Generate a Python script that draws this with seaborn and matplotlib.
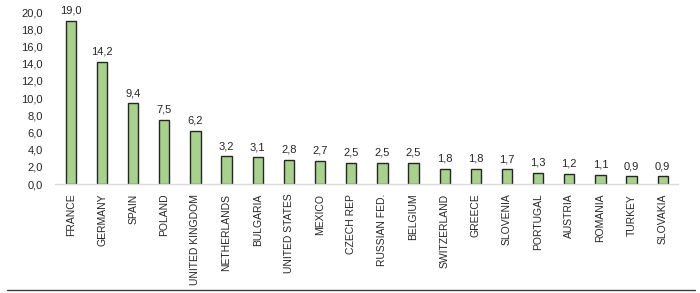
import matplotlib
matplotlib.use("Agg")
import matplotlib.pyplot as plt
import seaborn as sns
import pandas as pd
from matplotlib.lines import Line2D
from matplotlib.ticker import FuncFormatter

countries = ["FRANCE", "GERMANY", "SPAIN", "POLAND", "UNITED KINGDOM", "NETHERLANDS",
             "BULGARIA", "UNITED STATES", "MEXICO", "CZECH REP", "RUSSIAN FED.", "BELGIUM",
             "SWITZERLAND", "GREECE", "SLOVENIA", "PORTUGAL", "AUSTRIA", "ROMANIA",
             "TURKEY", "SLOVAKIA"]
values = [19.0, 14.2, 9.4, 7.5, 6.2, 3.2, 3.1, 2.8, 2.7, 2.5, 2.5, 2.5,
          1.8, 1.8, 1.7, 1.3, 1.2, 1.1, 0.9, 0.9]
yticks = [0, 2, 4, 6, 8, 10, 12, 14, 16, 18, 20]

sns.set_style("white")
plt.rcParams['font.family'] = ['Liberation Sans', 'DejaVu Sans']

df = pd.DataFrame({"country": countries, "value": values})

fig = plt.figure(figsize=(7, 2.93), dpi=100)
ax = fig.add_axes([0.079, 0.372, 0.89, 0.587])
sns.barplot(data=df, x="country", y="value", color="#a9d18e", width=0.33,
            edgecolor="#262626", linewidth=1.0, ax=ax, saturation=1)

ax.set_xlim(-0.5, 19.5)
ax.set_ylim(0, 20)
ax.set_yticks(yticks)
ax.yaxis.set_major_formatter(FuncFormatter(lambda v, p: f"{v:.1f}".replace(".", ",")))
ax.set_xlabel("")
ax.set_ylabel("")
for s in ["top", "right", "left"]:
    ax.spines[s].set_visible(False)
ax.spines["bottom"].set_color("#d9d9d9")
ax.spines["bottom"].set_linewidth(1.0)
ax.tick_params(axis="y", labelsize=8, length=0, pad=9)
ax.tick_params(axis="x", labelsize=7.5, length=0, pad=7, rotation=90)

for i, v in enumerate(values):
    ax.text(i, v + 0.6, f"{v:.1f}".replace(".", ","), ha="center", va="bottom", fontsize=8)

fig.add_artist(Line2D([0.01, 0.993], [0.01, 0.01], color="#404040", linewidth=1.0,
                      transform=fig.transFigure))

fig.savefig("out.png", dpi=100)
